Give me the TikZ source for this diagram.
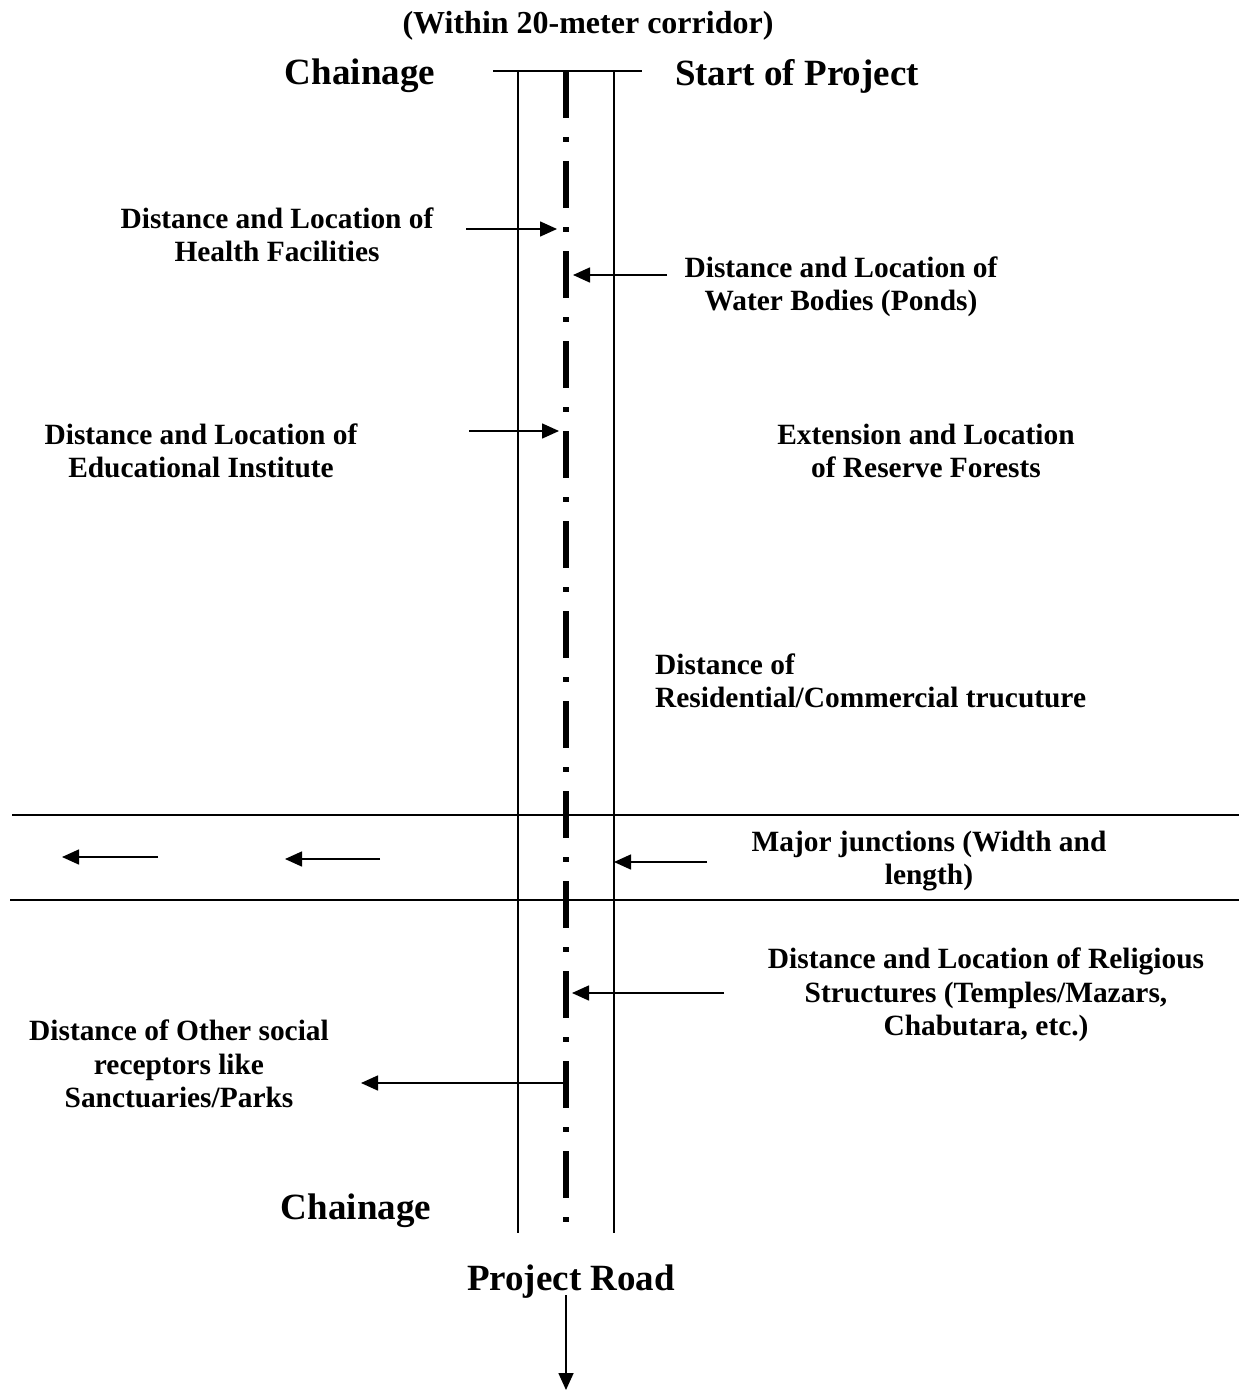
\documentclass[tikz,border=0pt]{standalone}
\usepackage{fontspec}
\setmainfont{Liberation Serif}
\usetikzlibrary{arrows.meta}
\begin{document}
\begin{tikzpicture}[x=1bp,y=-1bp,
  txt/.style={font=\fontsize{29.4bp}{33.5bp}\selectfont\bfseries, align=center, inner sep=0pt},
  bigtxt/.style={font=\fontsize{37bp}{42bp}\selectfont\bfseries, inner sep=0pt},
  titletxt/.style={font=\fontsize{32bp}{36bp}\selectfont\bfseries, inner sep=0pt},
  road/.style={line width=1.6bp},
  centre/.style={line width=5.5bp, dash pattern=on 47bp off 19bp on 5bp off 19bp},
  arr/.style={line width=1.6bp, -{Triangle[length=17bp,width=15bp]}}]
\useasboundingbox (0,0) rectangle (1239,1391);

% road geometry
\coordinate (tl) at (493,71);
\coordinate (tr) at (642,71);
\coordinate (lt) at (518,71);
\coordinate (lb) at (518,1233);
\coordinate (rt) at (614,71);
\coordinate (rb) at (614,1233);
\coordinate (ct) at (566,71);
\coordinate (cb) at (566,1233);
\draw[road] (tl) -- (tr);
\draw[road] (lt) -- (lb);
\draw[road] (rt) -- (rb);
\draw[centre] (ct) -- (cb);

% junction
\coordinate (j1a) at (12,815);
\coordinate (j1b) at (1239,815);
\coordinate (j2a) at (10,900);
\coordinate (j2b) at (1239,900);
\draw[road] (j1a) -- (j1b);
\draw[road] (j2a) -- (j2b);

% texts
\node[titletxt] (title) at (588,26) {(Within 20-meter corridor)};
\node[bigtxt] (chtop) at (360,76) {Chainage};
\node[bigtxt] (start) at (797,76) {Start of Project};
\node[txt] (health) at (277,235) {Distance and Location of\\Health Facilities};
\node[txt] (water) at (841,287) {Distance and Location of\\Water Bodies (Ponds)};
\node[txt] (edu) at (201,451) {Distance and Location of\\Educational Institute};
\node[txt] (forest) at (926,451) {Extension and Location\\of Reserve Forests};
\node[txt, align=left, anchor=west] (resid) at (655,681) {Distance of\\Residential/Commercial trucuture};
\node[txt] (major) at (929,861) {Major junctions (Width and\\length)};
\node[txt] (relig) at (986,995) {Distance and Location of Religious\\Structures (Temples/Mazars,\\Chabutara, etc.)};
\node[txt] (social) at (179,1064) {Distance of Other social\\receptors like\\Sanctuaries/Parks};
\node[bigtxt] (chbot) at (356,1211) {Chainage};
\node[bigtxt] (proad) at (571,1282) {Project Road};

% arrows
\coordinate (a1s) at (466,229);  \coordinate (a1e) at (557,229);
\coordinate (a2s) at (667,275);  \coordinate (a2e) at (573,275);
\coordinate (a3s) at (469,431);  \coordinate (a3e) at (559,431);
\coordinate (a4s) at (158,857);  \coordinate (a4e) at (62,857);
\coordinate (a5s) at (380,859);  \coordinate (a5e) at (285,859);
\coordinate (a6s) at (707,862);  \coordinate (a6e) at (614,862);
\coordinate (a7s) at (724,993);  \coordinate (a7e) at (572,993);
\coordinate (a8s) at (563,1083); \coordinate (a8e) at (361,1083);
\coordinate (a9s) at (566,1295); \coordinate (a9e) at (566,1390);
\draw[arr] (a1s) -- (a1e);
\draw[arr] (a2s) -- (a2e);
\draw[arr] (a3s) -- (a3e);
\draw[arr] (a4s) -- (a4e);
\draw[arr] (a5s) -- (a5e);
\draw[arr] (a6s) -- (a6e);
\draw[arr] (a7s) -- (a7e);
\draw[arr] (a8s) -- (a8e);
\draw[arr] (a9s) -- (a9e);
\end{tikzpicture}
\end{document}
